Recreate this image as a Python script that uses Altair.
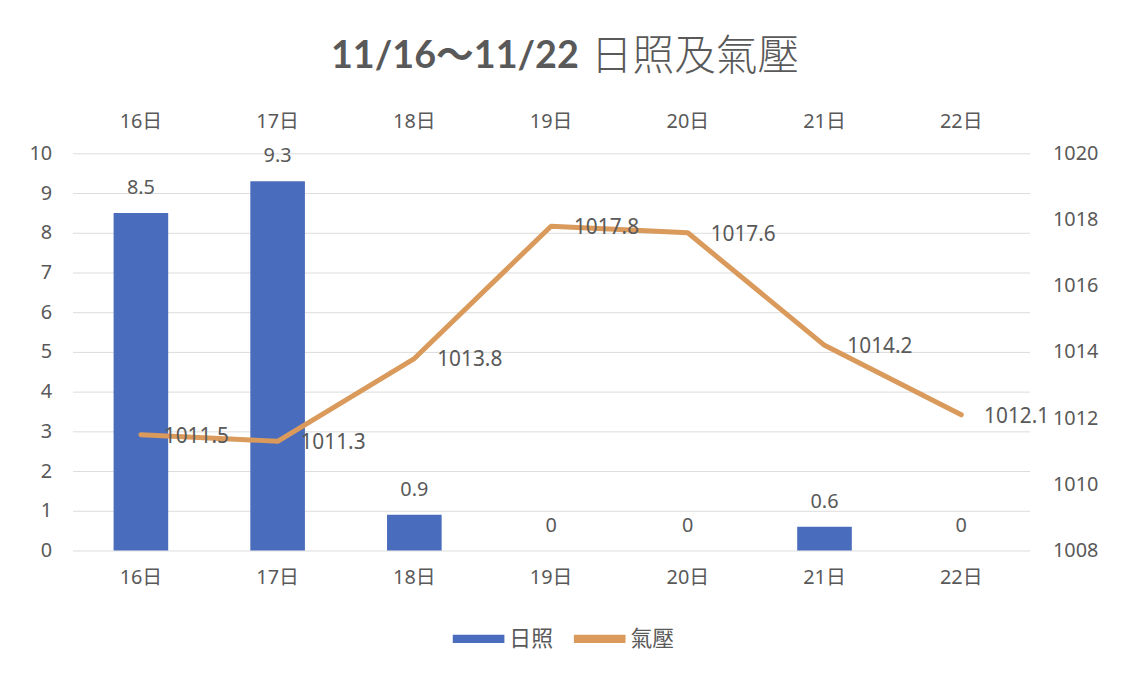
import altair as alt
import pandas as pd

days = ["16日", "17日", "18日", "19日", "20日", "21日", "22日"]
sunshine = [8.5, 9.3, 0.9, 0, 0, 0.6, 0]
pressure = [1011.5, 1011.3, 1013.8, 1017.8, 1017.6, 1014.2, 1012.1]
series = ["日照", "氣壓"]
title_num = "11/16～11/22"
title_cjk = "日照及氣壓"
sun_ticks = list(range(0, 11))
pres_ticks = [1008, 1010, 1012, 1014, 1016, 1018, 1020]

BLUE = "#4a6cbd"
ORANGE = "#d99a5c"
GRAY = "#595959"
FONT = "'Noto Sans', 'Noto Sans CJK TC', sans-serif"
FS = 20

df = pd.DataFrame({"day": days, "sun": sunshine, "pres": pressure})
df["s1"] = series[0]
df["s2"] = series[1]

xscale = alt.Scale(domain=days, paddingInner=0, paddingOuter=0)
color_scale = alt.Scale(domain=series, range=[BLUE, ORANGE])
legend = alt.Legend(
    title=None, orient="none", legendX=383, legendY=463, direction="horizontal",
    symbolType="M-1,-0.16L1,-0.16L1,0.16L-1,0.16Z", symbolSize=2704,
    symbolStrokeWidth=0, labelFontSize=22, labelColor=GRAY, labelFont=FONT,
    columnPadding=20, labelOffset=5,
)

x_bottom = alt.X("day:N", sort=days, scale=xscale, title=None,
                 axis=alt.Axis(orient="bottom", labelAngle=0, ticks=False, domain=False,
                               labelPadding=17, labelFontSize=FS, labelColor=GRAY,
                               labelFont=FONT, grid=False))
x_top = alt.X("day:N", sort=days, scale=xscale, title=None,
              axis=alt.Axis(orient="top", labelAngle=0, ticks=False, domain=False,
                            labelPadding=22, labelFontSize=FS, labelColor=GRAY,
                            labelFont=FONT, grid=False))
y_sun = alt.Y("sun:Q", scale=alt.Scale(domain=[0, 10]), title=None,
              axis=alt.Axis(orient="left", values=sun_ticks, ticks=False, domain=False,
                            grid=True, gridColor="#dcdcdc", labelPadding=21,
                            labelOverlap=False, labelFontSize=FS, labelColor=GRAY,
                            labelFont=FONT))
y_pres = alt.Y("pres:Q", scale=alt.Scale(domain=[1008, 1020]), title=None,
               axis=alt.Axis(orient="right", values=pres_ticks, ticks=False, domain=False,
                             grid=False, labelPadding=23, format="d", labelOverlap=False,
                             labelFontSize=FS, labelColor=GRAY, labelFont=FONT))

base = alt.Chart(df)

bars = base.mark_bar(size=55).encode(
    x=x_bottom, y=y_sun,
    color=alt.Color("s1:N", scale=color_scale, legend=legend),
)
bar_text = base.mark_text(dy=-25, fontSize=FS, color=GRAY, font=FONT, baseline="middle").encode(
    x=x_bottom, y=y_sun, text=alt.Text("sun:Q"),
)
bar_layer = alt.layer(bars, bar_text)

line = base.mark_line(strokeWidth=5, strokeCap="round", strokeJoin="round").encode(
    x=x_top, y=y_pres,
    color=alt.Color("s2:N", scale=color_scale, legend=legend),
)
line_text = base.mark_text(align="left", dx=23, dy=2, fontSize=21, color=GRAY,
                           font=FONT, baseline="middle").encode(
    x=x_top, y=y_pres, text=alt.Text("pres:Q", format=".1f"),
)
line_layer = alt.layer(line, line_text)

t1 = alt.Chart(pd.DataFrame({"t": [title_num]})).mark_text(
    align="right", baseline="middle", fontSize=38, fontWeight="bold", color=GRAY,
    font="Lato, 'Noto Sans CJK TC', sans-serif"
).encode(x=alt.value(510), y=alt.value(-97), text="t:N")
t2 = alt.Chart(pd.DataFrame({"t": [title_cjk]})).mark_text(
    align="left", baseline="middle", fontSize=42, fontWeight=300, color=GRAY,
    font="'Noto Sans CJK TC', sans-serif"
).encode(x=alt.value(522), y=alt.value(-97), text="t:N")

chart = alt.layer(bar_layer, line_layer, t1, t2).resolve_scale(
    y="independent"
).resolve_axis(x="independent").properties(
    width=964, height=400,
    padding={"left": 65, "top": 144, "right": 84, "bottom": 123},
    autosize=alt.AutoSizeParams(type="none"),
).configure(background="white").configure_view(stroke=None)

chart.save("out.html", embed_options={"renderer": "svg", "actions": False})
